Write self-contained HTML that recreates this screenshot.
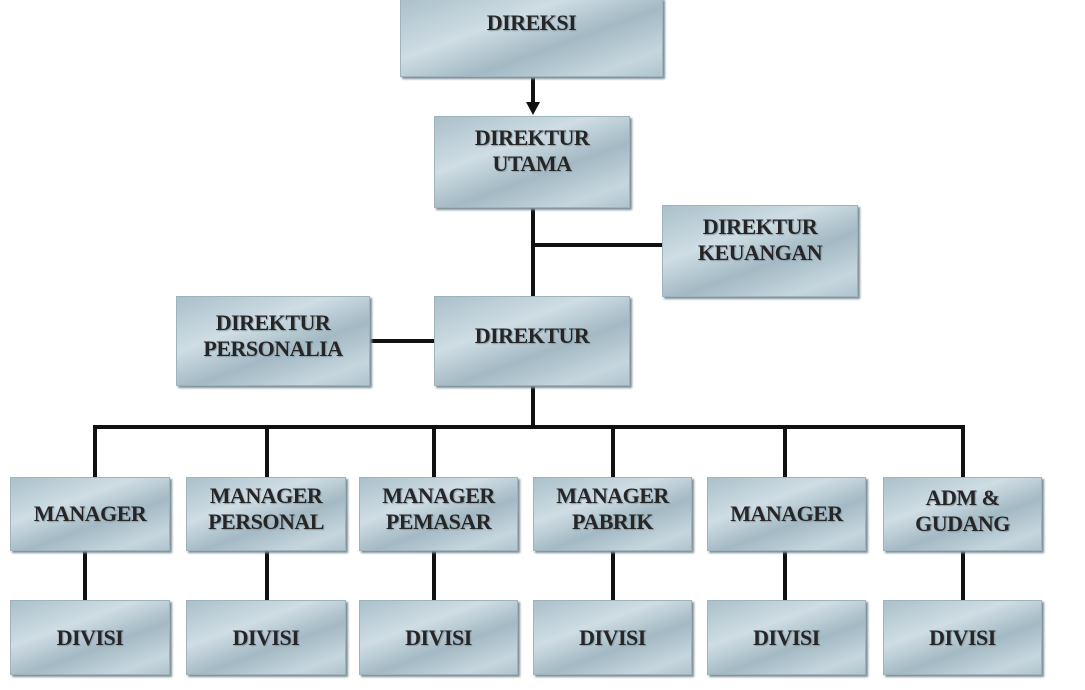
<!DOCTYPE html>
<html><head><meta charset="utf-8"><style>
body{margin:0;width:1085px;height:690px;background:#fff;position:relative;overflow:hidden;font-family:"Liberation Serif",serif;}
.b{position:absolute;box-sizing:border-box;background:linear-gradient(160deg,#aac0ca 0%,#cfdde4 35%,#a3b9c4 60%,#c6d6de 85%,#afc4ce 100%);box-shadow:2px 2px 2px #7c8e96;border:1px solid #9fb3bd;display:flex;align-items:center;justify-content:center;text-align:center;font-weight:bold;font-size:22px;line-height:26px;letter-spacing:-0.5px;color:#262626;text-shadow:1px 1px 1px #8a9aa2;}
.l{position:absolute;background:#111;}
</style></head><body>
<div class="l" style="left:531px;top:77px;width:4px;height:30px"></div>
<div style="position:absolute;left:526px;top:102px;width:0;height:0;border-left:7px solid transparent;border-right:7px solid transparent;border-top:13px solid #111"></div>
<div class="l" style="left:531px;top:208px;width:4px;height:88px"></div>
<div class="l" style="left:531px;top:243px;width:131px;height:4px"></div>
<div class="l" style="left:370px;top:339px;width:64px;height:4px"></div>
<div class="l" style="left:531px;top:386px;width:4px;height:41px"></div>
<div class="l" style="left:93px;top:425px;width:872px;height:4px"></div>
<div class="l" style="left:93px;top:425px;width:4px;height:52px"></div>
<div class="l" style="left:265px;top:425px;width:4px;height:52px"></div>
<div class="l" style="left:432px;top:425px;width:4px;height:52px"></div>
<div class="l" style="left:611px;top:425px;width:4px;height:52px"></div>
<div class="l" style="left:783px;top:425px;width:4px;height:52px"></div>
<div class="l" style="left:961px;top:425px;width:4px;height:52px"></div>
<div class="l" style="left:83px;top:550px;width:4px;height:50px"></div>
<div class="l" style="left:265px;top:550px;width:4px;height:50px"></div>
<div class="l" style="left:432px;top:550px;width:4px;height:50px"></div>
<div class="l" style="left:611px;top:550px;width:4px;height:50px"></div>
<div class="l" style="left:783px;top:550px;width:4px;height:50px"></div>
<div class="l" style="left:961px;top:550px;width:4px;height:50px"></div>

<div class="b" style="left:400px;top:-2px;width:263px;height:79px;padding-bottom:30px">DIREKSI</div>
<div class="b" style="left:434px;top:116px;width:196px;height:92px;padding-bottom:22px">DIREKTUR<br>UTAMA</div>
<div class="b" style="left:662px;top:205px;width:196px;height:92px;padding-bottom:22px">DIREKTUR<br>KEUANGAN</div>
<div class="b" style="left:434px;top:296px;width:196px;height:90px;padding-bottom:10px">DIREKTUR</div>
<div class="b" style="left:176px;top:296px;width:194px;height:90px;padding-bottom:10px">DIREKTUR<br>PERSONALIA</div>

<div class="b" style="left:10px;top:477px;width:160px;height:74px">MANAGER</div>
<div class="b" style="left:186px;top:477px;width:160px;height:74px;padding-bottom:10px">MANAGER<br>PERSONAL</div>
<div class="b" style="left:359px;top:477px;width:159px;height:74px;padding-bottom:10px">MANAGER<br>PEMASAR</div>
<div class="b" style="left:533px;top:477px;width:159px;height:74px;padding-bottom:10px">MANAGER<br>PABRIK</div>
<div class="b" style="left:707px;top:477px;width:159px;height:74px">MANAGER</div>
<div class="b" style="left:883px;top:477px;width:159px;height:74px;padding-bottom:6px">ADM &amp;<br>GUDANG</div>

<div class="b" style="left:10px;top:600px;width:160px;height:75px">DIVISI</div>
<div class="b" style="left:186px;top:600px;width:160px;height:75px">DIVISI</div>
<div class="b" style="left:359px;top:600px;width:159px;height:75px">DIVISI</div>
<div class="b" style="left:533px;top:600px;width:159px;height:75px">DIVISI</div>
<div class="b" style="left:707px;top:600px;width:159px;height:75px">DIVISI</div>
<div class="b" style="left:883px;top:600px;width:159px;height:75px">DIVISI</div>
</body></html>
